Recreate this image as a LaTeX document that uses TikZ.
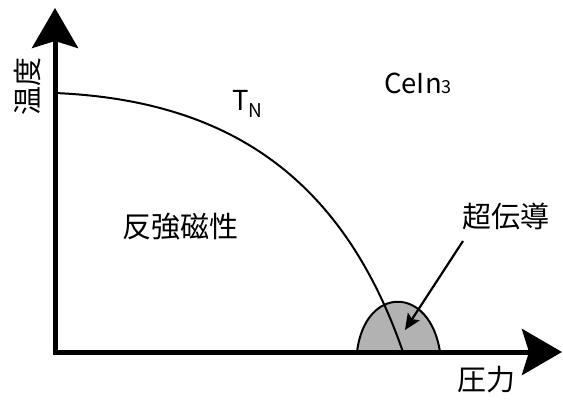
\documentclass[tikz,border=0pt]{standalone}
\usepackage{fontspec}
\setmainfont{Noto Sans CJK JP}
\usetikzlibrary{arrows.meta}
\begin{document}
\begin{tikzpicture}[x=1pt,y=-1pt,
  axis/.style={line width=5pt,-{Stealth[length=40pt,width=46pt,inset=7pt]}},
  phase/.style={line width=2pt},
  dome/.style={line width=2pt,fill=black!30},
  pointer/.style={line width=2.2pt,-{Stealth[length=16pt,width=14pt,inset=3pt]}},
  jlabel/.style={inner sep=0pt,font=\fontsize{29}{29}\selectfont},
  llabel/.style={inner sep=0pt,anchor=base west,font=\fontsize{27.5}{27.5}\selectfont}]
\useasboundingbox (0,0) rectangle (563,400);
\coordinate (O) at (55,352);
\coordinate (ytip) at (55,8);
\coordinate (xtip) at (562,352);
\coordinate (tn0) at (55,93);
\coordinate (tn1) at (403,352);
\coordinate (d0) at (357,352);
\coordinate (d1) at (440,352);
\coordinate (ps) at (463,241);
\coordinate (pe) at (405,330);
% superconducting dome
\draw[dome] (d0) .. controls (365,285) and (430,285) .. (d1);
% Neel line
\draw[phase] (tn0) .. controls (220,100) and (340,170) .. (tn1);
% axes
\draw[axis] ([yshift=2.5pt]O) -- (ytip);
\draw[axis] ([xshift=-2.5pt]O) -- (xtip);
% pointer
\draw[pointer] (ps) -- (pe);
% labels
\node[jlabel,rotate=90] (temp) at (28,86) {温度};
\node[jlabel] (press) at (486.5,380) {圧力};
\node[jlabel] (afm) at (180,226.5) {反強磁性};
\node[jlabel] (sc) at (506,216.5) {超伝導};
\node[llabel] (tn) at (232,110) {T\raisebox{-7pt}{\fontsize{19}{19}\selectfont N}};
\node[llabel] (cein) at (384,93) {CeIn\fontsize{18}{18}\selectfont 3};
\end{tikzpicture}
\end{document}
